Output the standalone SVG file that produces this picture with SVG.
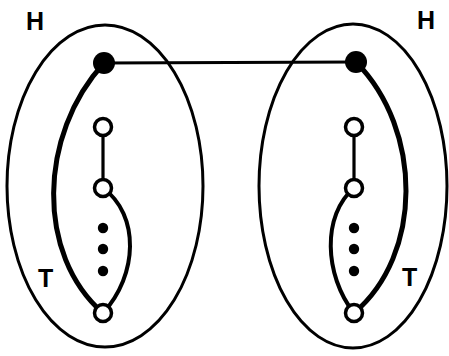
<svg xmlns="http://www.w3.org/2000/svg" width="449" height="356" viewBox="0 0 449 356">
<style>
.cluster{fill:none;stroke:#000;stroke-width:3}
.edge{fill:none;stroke:#000;stroke-linecap:round}
.thick{stroke-width:5}
.mid{stroke-width:4}
.thin{stroke-width:3.2}
.open{fill:#fff;stroke:#000;stroke-width:3.5}
.solid{fill:#000}
.lbl{font-family:"Liberation Sans",Arial,sans-serif;font-weight:bold;font-size:25px;fill:#000}
</style>
<rect width="449" height="356" fill="#fff"/>
<g id="cluster-left">
<ellipse class="cluster" cx="105" cy="186" rx="98" ry="161"/>
<text class="lbl" x="26" y="30">H</text>
<text class="lbl" x="38" y="287">T</text>
</g>
<g id="cluster-right">
<ellipse class="cluster" cx="353" cy="186" rx="94" ry="162"/>
<text class="lbl" x="417" y="29">H</text>
<text class="lbl" x="402" y="286">T</text>
</g>
<g id="connectors">
<line class="edge thin" x1="104" y1="63" x2="356" y2="62"/>
<path class="edge thick" d="M104,63 C38,135 36,255 103,313"/>
<line class="edge thin" x1="103" y1="127" x2="103" y2="188"/>
<path class="edge mid" d="M103,188 C140,215 138,275 103,313"/>
<path class="edge thick" d="M356,62 C423,130 423,255 354,313"/>
<line class="edge thin" x1="354" y1="127" x2="354" y2="188"/>
<path class="edge mid" d="M354,188 C322,215 324,275 354,313"/>
</g>
<g id="n-left-top"><circle class="solid" cx="104" cy="63" r="11"/></g>
<g id="n-left-1"><circle class="open" cx="103" cy="127" r="8.5"/></g>
<g id="n-left-2"><circle class="open" cx="103" cy="188" r="8.5"/></g>
<g id="n-left-dots"><circle class="solid" cx="103" cy="228" r="5.2"/><circle class="solid" cx="103" cy="249" r="5.2"/><circle class="solid" cx="103" cy="271" r="5.2"/></g>
<g id="n-left-bottom"><circle class="open" cx="103" cy="313" r="8.5"/></g>
<g id="n-right-top"><circle class="solid" cx="356" cy="62" r="11"/></g>
<g id="n-right-1"><circle class="open" cx="354" cy="127" r="8.5"/></g>
<g id="n-right-2"><circle class="open" cx="354" cy="188" r="8.5"/></g>
<g id="n-right-dots"><circle class="solid" cx="354" cy="228" r="5.2"/><circle class="solid" cx="354" cy="249" r="5.2"/><circle class="solid" cx="354" cy="271" r="5.2"/></g>
<g id="n-right-bottom"><circle class="open" cx="354" cy="313" r="8.5"/></g>
</svg>
